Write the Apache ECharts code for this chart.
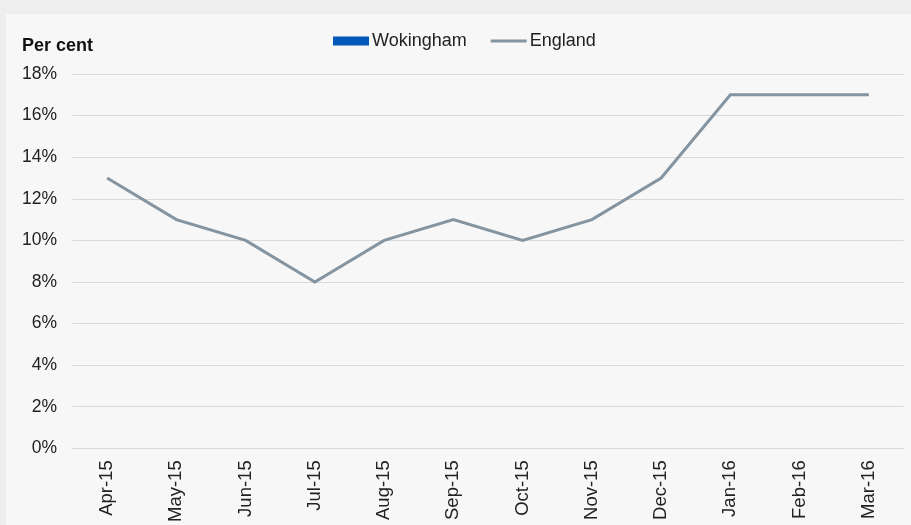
<!DOCTYPE html>
<html><head><meta charset="utf-8">
<script src="https://cdn.jsdelivr.net/npm/echarts@6/dist/echarts.min.js"></script>
<style>html,body{margin:0;padding:0;background:#eeeeee;}#c{width:911px;height:525px;}</style>
</head><body><div id="c"></div>
<script>
const categories = ['Apr-15','May-15','Jun-15','Jul-15','Aug-15','Sep-15','Oct-15','Nov-15','Dec-15','Jan-16','Feb-16','Mar-16'];
const wokingham = [null,null,null,null,null,null,null,null,null,null,null,null];
const england = [13,11,10,8,10,11,10,11,13,17,17,17];

const FONT = '"Liberation Sans", Arial, sans-serif';
const chart = echarts.init(document.getElementById('c'));
chart.setOption({
  backgroundColor: '#eeeeee',
  animation: false,
  graphic: [{type:'rect', z:-10, shape:{x:6,y:14,width:905,height:511}, style:{fill:'#f7f7f7'}},
            {type:'text', left:22, top:37, style:{text:'Per cent', font:'bold 18px "Liberation Sans", Arial, sans-serif', fill:'#111'}}],
  legend: {
    top: 27, left: 328, itemGap: 24, itemWidth: 36, itemHeight: 9,
    textStyle: {fontFamily:FONT, fontSize:18, color:'#222', padding:[0,0,0,-2]},
    data: [
      {name:'Wokingham', icon:'rect', itemStyle:{color:'#0059b8'}},
      {name:'England', icon:'path://M0,3 L36,3 L36,6 L0,6 Z', itemStyle:{color:'#8494a0'}}
    ]
  },
  grid: {left: 72.5, right: 7.5, top: 74, bottom: 75, containLabel: false},
  xAxis: {
    type: 'category', data: categories, boundaryGap: true,
    axisLine: {show:true, lineStyle:{color:'#d9d9d9'}},
    axisTick: {show:false},
    axisLabel: {rotate: 90, color:'#222', fontSize:18.5, fontFamily:FONT, margin: 12}
  },
  yAxis: {
    type: 'value', min: 0, max: 18, interval: 2,
    axisLine:{show:false}, axisTick:{show:false},
    splitLine:{lineStyle:{color:'#d9d9d9', width:1}},
    axisLabel:{formatter:'{value}%', color:'#222', fontSize:17.5, fontFamily:FONT, margin: 15.5}
  },
  series: [
    {name:'Wokingham', type:'line', data: wokingham, symbol:'none', lineStyle:{color:'#0059b8', width:3}, itemStyle:{color:'#0059b8'}},
    {name:'England', type:'line', data: england, symbol:'none', lineStyle:{color:'#8494a0', width:3, join:'miter'}, itemStyle:{color:'#8494a0'}}
  ]
});
</script></body></html>
